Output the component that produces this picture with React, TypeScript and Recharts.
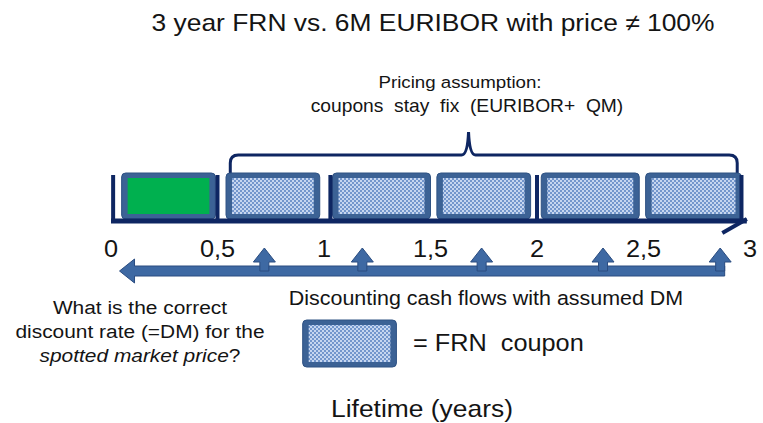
import React from 'react';
import { ComposedChart, XAxis, YAxis, ReferenceArea, ReferenceLine, Scatter } from 'recharts';

// periods on the time line (years)
const PERIOD_START = [0.05, 0.54, 1.04, 1.53, 2.02, 2.51];
const PERIOD_END = [0.49, 0.98, 1.5, 1.97, 2.48, 2.96];
const PERIOD_KIND = ['price', 'coupon', 'coupon', 'coupon', 'coupon', 'coupon'];
const YEAR_MARKS = [0.01, 0.5, 1.03, 2.0, 2.96];
const TICK_VALUES = [0, 0.5, 1, 1.5, 2, 2.5, 3];
const TICK_LABELS = ['0', '0,5', '1', '1,5', '2', '2,5', '3'];
const CASH_FLOW_YEARS = [0.72, 1.18, 1.74, 2.31, 2.86];
const LEGEND_BOX = [0.9, 1.34];

// vertical layout (px from top)
const L = {
  braceTop: 132,
  boxTop: 173,
  boxBottom: 219,
  markTop: 175,
  axis: 221,
  tickBase: 257,
  band: 271,
  legendTop: 320,
  legendBottom: 367,
};

const NAVY = '#0e2662';
const ARROW = '#3e69a3';
const FONT = '"Liberation Sans", Arial, sans-serif';
const TEXT = '#141414';

function T({ x, y, size, anchor = 'middle', children }: any) {
  return (
    <text transform={`translate(${x} ${y}) scale(1.1 1)`} textAnchor={anchor} fontSize={size} fontFamily={FONT} fill={TEXT} style={{ whiteSpace: 'pre' }}>
      {children}
    </text>
  );
}

function Box({ x, y, width, height, inner }: any) {
  return (
    <g>
      <rect x={x} y={y} width={width} height={height} rx={4} fill="#3c6295" stroke="#2f5283" />
      <rect x={x + 6} y={y + 5} width={width - 12} height={height - 10} fill={inner} />
    </g>
  );
}

function Brace({ x, y, width, height }: any) {
  const bar = y + 23;
  const bottom = y + height;
  const right = x + width;
  const px = x + width * 0.47;
  const d = `M${x},${bottom} L${x},${bar + 8} Q${x},${bar} ${x + 8},${bar} L${px - 7},${bar} Q${px - 1},${bar} ${px},${y} Q${px + 1},${bar} ${px + 7},${bar} L${right - 8},${bar} Q${right},${bar} ${right},${bar + 8} L${right},${bottom}`;
  return <path d={d} fill="none" stroke={NAVY} strokeWidth={3} />;
}

function Band({ x, y, width, height }: any) {
  const cy = y + height / 2;
  const right = x + width + 4.5;
  const d = `M${x},${cy} L${x + 15},${cy - 12} L${x + 15},${cy - 5} L${right},${cy - 5} L${right},${cy + 5} L${x + 15},${cy + 5} L${x + 15},${cy + 12} Z`;
  return <path d={d} fill={ARROW} stroke="#2a4c80" strokeWidth={1} />;
}

function UpArrow({ cx, cy }: any) {
  const d = `M${cx - 4.5},${cy} L${cx - 4.5},${cy - 9} L${cx - 11},${cy - 9} L${cx},${cy - 23} L${cx + 11},${cy - 9} L${cx + 4.5},${cy - 9} L${cx + 4.5},${cy} Z`;
  return <path d={d} fill={ARROW} stroke="#2a4c80" strokeWidth={1} />;
}

function TickText({ cx, cy, payload }: any) {
  return <T x={cx} y={cy} size={23}>{payload.label}</T>;
}

export default function App() {
  const tickData = TICK_VALUES.map((x, i) => ({ x, y: L.tickBase, label: TICK_LABELS[i] }));
  const flowData = CASH_FLOW_YEARS.map(x => ({ x, y: L.band }));

  return (
    <div style={{ position: 'absolute', left: 0, top: 0, background: '#fff' }}>
      <ComposedChart width={763} height={423} margin={{ top: 0, right: 13, bottom: 0, left: 111 }}>
        <defs>
          <pattern id="frnDots" width="4" height="4" patternUnits="userSpaceOnUse">
            <rect width="4" height="4" fill="#7396cc" />
            <rect width="2" height="2" fill="#c6d6f0" />
            <rect x="2" y="2" width="2" height="2" fill="#c6d6f0" />
          </pattern>
        </defs>
        <XAxis type="number" dataKey="x" domain={[0, 3]} hide />
        <YAxis type="number" dataKey="y" domain={[0, 423]} reversed hide />

        <ReferenceArea x1={0.56} x2={2.94} y1={L.braceTop} y2={L.boxTop} shape={(p: any) => <Brace {...p} />} />

        {YEAR_MARKS.map(t => (
          <ReferenceLine key={t} segment={[{ x: t, y: L.markTop }, { x: t, y: L.axis + 2 }]} stroke={NAVY} strokeWidth={4} />
        ))}
        <ReferenceLine segment={[{ x: 0, y: L.axis }, { x: 2.985, y: L.axis }]} stroke={NAVY} strokeWidth={5} />
        <ReferenceLine segment={[{ x: 2.985, y: L.axis - 2 }, { x: 2.87, y: L.axis + 12 }]} stroke={NAVY} strokeWidth={4} />

        {PERIOD_START.map((s, i) => (
          <ReferenceArea
            key={i}
            x1={s}
            x2={PERIOD_END[i]}
            y1={L.boxTop}
            y2={L.boxBottom}
            shape={(p: any) => <Box {...p} inner={PERIOD_KIND[i] === 'price' ? '#00b04f' : 'url(#frnDots)'} />}
          />
        ))}

        <Scatter data={tickData} dataKey="y" isAnimationActive={false} shape={(p: any) => <TickText {...p} />} />

        <ReferenceArea x1={0.04} x2={CASH_FLOW_YEARS[CASH_FLOW_YEARS.length - 1]} y1={L.band - 12} y2={L.band + 12} shape={(p: any) => <Band {...p} />} />
        <Scatter data={flowData} dataKey="y" isAnimationActive={false} shape={(p: any) => <UpArrow {...p} />} />

        <ReferenceArea x1={LEGEND_BOX[0]} x2={LEGEND_BOX[1]} y1={L.legendTop} y2={L.legendBottom} shape={(p: any) => <Box {...p} inner="url(#frnDots)" />} />

        <T x={433} y={31} size={24}>3 year FRN vs. 6M EURIBOR with price ≠ 100%</T>
        <T x={460} y={88} size={17}>Pricing assumption:</T>
        <T x={467} y={112} size={17.5}>{'coupons  stay  fix  (EURIBOR+\u00a0\u00a0QM)'}</T>
        <T x={486} y={305} size={19.5}>Discounting cash flows with assumed DM</T>
        <T x={140} y={314} size={19}>What is the correct</T>
        <T x={140} y={338} size={19}>discount rate (=DM) for the</T>
        <T x={140} y={362} size={19}>
          <tspan fontStyle="italic">spotted market price</tspan>?
        </T>
        <T x={413} y={351} size={23} anchor="start">{'=\u00a0FRN\u00a0\u00a0coupon'}</T>
        <T x={422} y={417} size={24}>Lifetime (years)</T>
      </ComposedChart>
    </div>
  );
}
